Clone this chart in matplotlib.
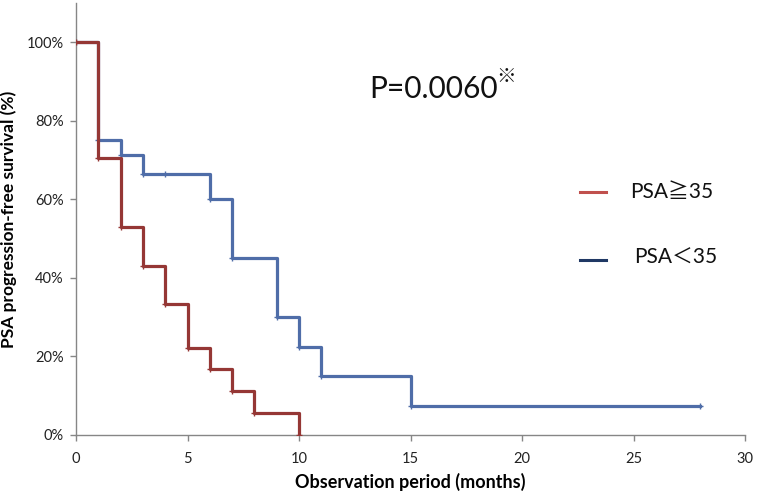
import matplotlib
matplotlib.use("Agg")
import matplotlib.pyplot as plt
from matplotlib.ticker import FuncFormatter

plt.rcParams['font.family'] = ['Lato', 'Noto Sans CJK JP', 'DejaVu Sans']

# Data
high_time = [0, 1, 2, 3, 4, 5, 6, 7, 8, 10]
high_surv = [100, 70.6, 52.9, 43.1, 33.3, 22.2, 16.7, 11.1, 5.6, 0]

low_time = [0, 1, 2, 3, 4, 6, 7, 9, 10, 11, 15, 28]
low_surv = [100, 75.0, 71.2, 66.5, 66.5, 60.0, 45.0, 30.0, 22.5, 15.0, 7.5, 7.5]

x_ticks = [0, 5, 10, 15, 20, 25, 30]
y_ticks = [0, 20, 40, 60, 80, 100]

label_high = "PSA≧35"
label_low = "PSA＜35"
p_text = "P=0.0060"

red = "#953735"
blue = "#4F6DA8"
red_leg = "#C0504D"
blue_leg = "#1F3864"
gray = "#868686"

fig = plt.figure(figsize=(7.57, 4.92), dpi=100)
ax = fig.add_axes([76/757, 57/492, (745-76)/757, (435-3)/492])

ax.step(low_time, low_surv, where='post', color=blue, lw=2.3, zorder=2)
ax.plot(low_time, low_surv, ls='none', marker='+', ms=4, mew=1, color=blue, zorder=2)
ax.step(high_time, high_surv, where='post', color=red, lw=2.3, zorder=3)
ax.plot(high_time, high_surv, ls='none', marker='+', ms=4, mew=1, color=red, zorder=3)

ax.set_xlim(0, 30)
ax.set_ylim(0, 110)
ax.set_xticks(x_ticks)
ax.set_yticks(y_ticks)
ax.yaxis.set_major_formatter(FuncFormatter(lambda v, p: f"{int(v)}%"))

for s in ['top', 'right']:
    ax.spines[s].set_visible(False)
for s in ['left', 'bottom']:
    ax.spines[s].set_color(gray)
    ax.spines[s].set_linewidth(1)
ax.tick_params(direction='out', length=4, width=1, color=gray, labelsize=10.5, labelcolor='#222222')
ax.tick_params(axis='x', pad=8)
ax.tick_params(axis='y', pad=5)

ax.set_xlabel("Observation period (months)", fontsize=13, fontweight='bold', labelpad=5)
ax.set_ylabel("PSA progression-free survival (%)", fontsize=12.5, fontweight='bold', labelpad=7)

# P value annotation
ax.text(0.438, 0.80, p_text, transform=ax.transAxes, fontsize=21.5, color='#111111',
        ha='left', va='center')
ax.text(0.628, 0.83, "※", transform=ax.transAxes, fontsize=14, color='#111111',
        ha='left', va='center', family=['Noto Sans CJK JP', 'DejaVu Sans'])

# Manual legend
ax.plot([0.753, 0.792], [0.562, 0.562], transform=ax.transAxes, color=red_leg, lw=2.2, clip_on=False)
ax.plot([0.753, 0.792], [0.405, 0.405], transform=ax.transAxes, color=blue_leg, lw=2.2, clip_on=False)
ax.text(0.828, 0.562, label_high, transform=ax.transAxes, fontsize=15, color='#111111',
        ha='left', va='center')
ax.text(0.834, 0.41, label_low, transform=ax.transAxes, fontsize=15, color='#111111',
        ha='left', va='center')

fig.savefig("out.png", dpi=100)
